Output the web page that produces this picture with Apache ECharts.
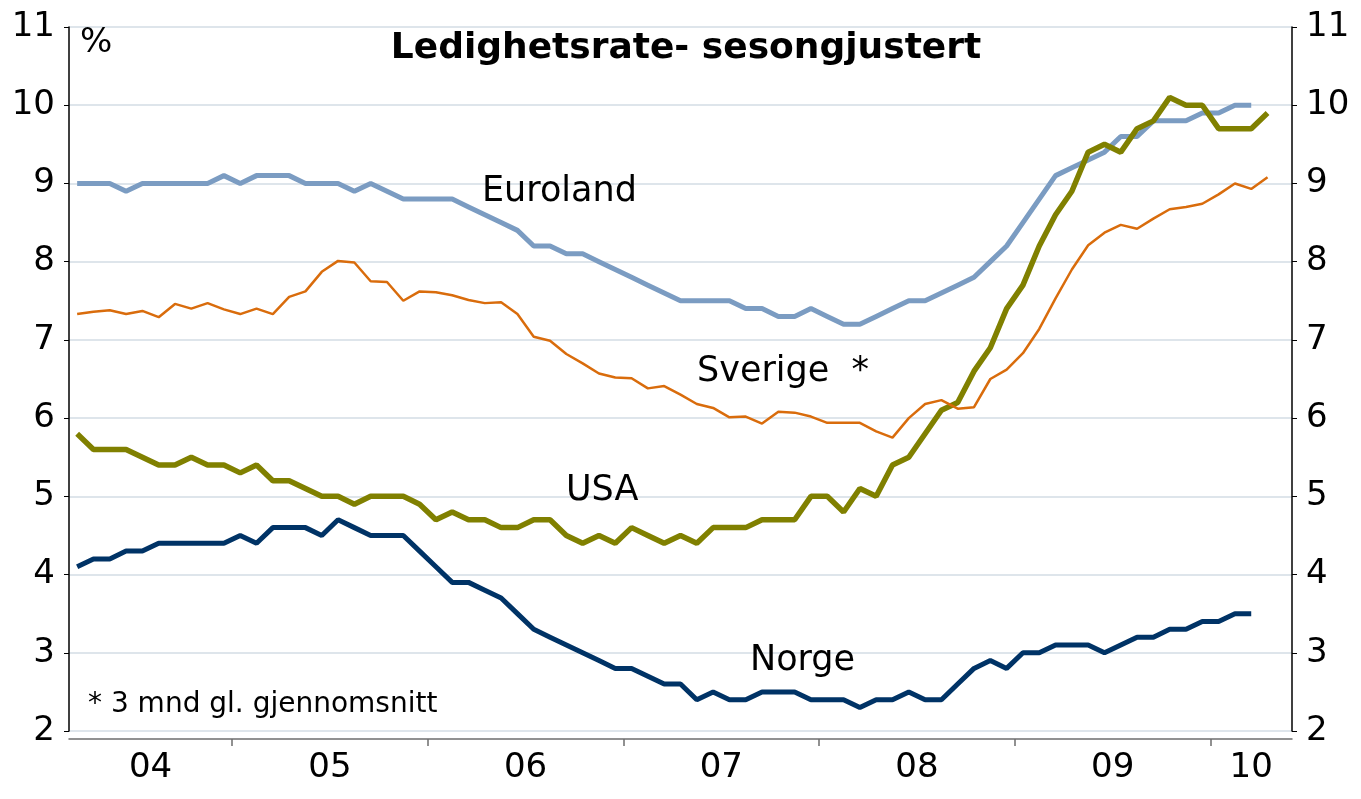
<!DOCTYPE html>
<html>
<head>
<meta charset="utf-8">
<title>Ledighetsrate</title>
<script src="https://cdn.jsdelivr.net/npm/echarts@6/dist/echarts.min.js"></script>
<style>
  html, body { margin: 0; padding: 0; background: #fff; }
  #main { width: 1361px; height: 799px; }
</style>
</head>
<body>
<div id="main"></div>
<script>
// monthly data, first month March 2004
const startYear = 2004;
const startMonth = 3;
const monthCount = 75; // Mar 2004 .. May 2010 on the axis

const euroland = [
  9.0, 9.0, 9.0, 8.9, 9.0, 9.0, 9.0, 9.0, 9.0, 9.1, 9.0, 9.1, 9.1, 9.1, 9.0, 9.0, 9.0, 8.9, 9.0,
  8.9, 8.8, 8.8, 8.8, 8.8, 8.7, 8.6, 8.5, 8.4, 8.2, 8.2, 8.1, 8.1, 8.0, 7.9, 7.8, 7.7, 7.6, 7.5,
  7.5, 7.5, 7.5, 7.4, 7.4, 7.3, 7.3, 7.4, 7.3, 7.2, 7.2, 7.3, 7.4, 7.5, 7.5, 7.6, 7.7, 7.8,
  8.0, 8.2, 8.5, 8.8, 9.1, 9.2, 9.3, 9.4, 9.6, 9.6, 9.8, 9.8, 9.8, 9.9, 9.9, 10.0, 10.0
];
const sverige = [
  7.33, 7.36, 7.38, 7.33, 7.37, 7.29, 7.46, 7.40, 7.47, 7.39, 7.33, 7.40, 7.33, 7.55, 7.62, 7.87, 8.01, 7.99, 7.75,
  7.74, 7.50, 7.62, 7.61, 7.57, 7.51, 7.47, 7.48, 7.33, 7.04, 6.99, 6.82, 6.70, 6.57, 6.52, 6.51, 6.38, 6.41, 6.30,
  6.18, 6.13, 6.01, 6.02, 5.93, 6.08, 6.07, 6.02, 5.94, 5.94, 5.94, 5.83, 5.75, 6.00, 6.18, 6.23, 6.12, 6.14,
  6.50, 6.62, 6.83, 7.14, 7.53, 7.90, 8.21, 8.37, 8.47, 8.42, 8.55, 8.67, 8.70, 8.74, 8.86, 9.00, 8.93, 9.08
];
const usa = [
  5.8, 5.6, 5.6, 5.6, 5.5, 5.4, 5.4, 5.5, 5.4, 5.4, 5.3, 5.4, 5.2, 5.2, 5.1, 5.0, 5.0, 4.9, 5.0,
  5.0, 5.0, 4.9, 4.7, 4.8, 4.7, 4.7, 4.6, 4.6, 4.7, 4.7, 4.5, 4.4, 4.5, 4.4, 4.6, 4.5, 4.4, 4.5,
  4.4, 4.6, 4.6, 4.6, 4.7, 4.7, 4.7, 5.0, 5.0, 4.8, 5.1, 5.0, 5.4, 5.5, 5.8, 6.1, 6.2, 6.6,
  6.9, 7.4, 7.7, 8.2, 8.6, 8.9, 9.4, 9.5, 9.4, 9.7, 9.8, 10.1, 10.0, 10.0, 9.7, 9.7, 9.7, 9.9
];
const norge = [
  4.1, 4.2, 4.2, 4.3, 4.3, 4.4, 4.4, 4.4, 4.4, 4.4, 4.5, 4.4, 4.6, 4.6, 4.6, 4.5, 4.7, 4.6, 4.5,
  4.5, 4.5, 4.3, 4.1, 3.9, 3.9, 3.8, 3.7, 3.5, 3.3, 3.2, 3.1, 3.0, 2.9, 2.8, 2.8, 2.7, 2.6, 2.6,
  2.4, 2.5, 2.4, 2.4, 2.5, 2.5, 2.5, 2.4, 2.4, 2.4, 2.3, 2.4, 2.4, 2.5, 2.4, 2.4, 2.6,
  2.8, 2.9, 2.8, 3.0, 3.0, 3.1, 3.1, 3.1, 3.0, 3.1, 3.2, 3.2, 3.3, 3.3, 3.4, 3.4, 3.5, 3.5
];

const yearLabels = { 2004: "04", 2005: "05", 2006: "06", 2007: "07", 2008: "08", 2009: "09", 2010: "10" };

const months = [];
for (let i = 0; i < monthCount; i++) {
  const m = startMonth - 1 + i;
  const y = startYear + Math.floor(m / 12);
  months.push(y + "-" + String((m % 12) + 1).padStart(2, "0"));
}

// year boundaries (ticks) and year middles (labels), in band units
const tickPos = [];
const labelPos = [];
const labelText = {};
Object.keys(yearLabels).forEach((y) => {
  const idx = months.map((m, i) => (m.startsWith(y) ? i : -1)).filter((i) => i >= 0);
  if (!idx.length) return;
  const first = idx[0];
  const last = idx[idx.length - 1] + 1;
  if (first > 0) tickPos.push(first);
  const mid = (first + last) / 2;
  labelPos.push(mid);
  labelText[mid] = yearLabels[y];
});

const FONT = 'Verdana, "DejaVu Sans", sans-serif';

let myChart = echarts.init(document.getElementById("main"));
myChart.setOption({
  animation: false,
  backgroundColor: "#fff",
  textStyle: { fontFamily: FONT },
  title: {
    text: "Ledighetsrate- sesongjustert",
    left: 681,
    top: 26,
    textAlign: "center",
    textStyle: { fontFamily: FONT, fontSize: 36, fontWeight: "bold", color: "#000" },
  },
  grid: {
    left: 69,
    right: 69,
    top: 27,
    bottom: 68,
    containLabel: false,
  },
  xAxis: [
    {
      type: "category",
      data: months,
      boundaryGap: true,
      offset: 8,
      axisLine: { lineStyle: { color: "#6e6e6e", width: 1.5 } },
      axisTick: { show: false },
      axisLabel: { show: false },
      splitLine: { show: false },
    },
    {
      type: "value",
      min: 0,
      max: monthCount,
      position: "bottom",
      offset: 8,
      axisLine: { show: false },
      splitLine: { show: false },
      axisTick: {
        show: true,
        customValues: tickPos,
        length: 7,
        lineStyle: { color: "#6e6e6e", width: 1.5 },
      },
      axisLabel: {
        customValues: labelPos,
        formatter: (v) => labelText[v] || "",
        fontSize: 34,
        color: "#000",
        margin: 12,
        fontFamily: FONT,
      },
    },
  ],
  yAxis: [
    {
      type: "value",
      min: 2,
      max: 11,
      interval: 1,
      position: "left",
      axisLine: { show: true, lineStyle: { color: "#000", width: 1.5 } },
      axisTick: { show: true, length: 5, lineStyle: { color: "#000" } },
      axisLabel: { fontSize: 34, color: "#000", margin: 14, fontFamily: FONT },
      splitLine: { show: true, lineStyle: { color: "#d3dce4", width: 1.5 } },
    },
    {
      type: "value",
      min: 2,
      max: 11,
      interval: 1,
      position: "right",
      axisLine: { show: true, lineStyle: { color: "#000", width: 1.5 } },
      axisTick: { show: true, length: 5, lineStyle: { color: "#000" } },
      axisLabel: { fontSize: 34, color: "#000", margin: 14, fontFamily: FONT },
      splitLine: { show: false },
    },
  ],
  graphic: [
    { type: "text", z: 100, left: 80, top: 26, style: { text: "%", font: "34px " + FONT, fill: "#000" } },
    { type: "text", z: 100, x: 482, y: 192, style: { text: "Euroland", font: "35px " + FONT, fill: "#000", textVerticalAlign: "middle" } },
    { type: "text", z: 100, x: 697, y: 372, style: { text: "Sverige  *", font: "35px " + FONT, fill: "#000", textVerticalAlign: "middle" } },
    { type: "text", z: 100, x: 566, y: 491, style: { text: "USA", font: "35px " + FONT, fill: "#000", textVerticalAlign: "middle" } },
    { type: "text", z: 100, x: 750, y: 661, style: { text: "Norge", font: "35px " + FONT, fill: "#000", textVerticalAlign: "middle" } },
    { type: "text", z: 100, x: 88, y: 705, style: { text: "* 3 mnd gl. gjennomsnitt", font: "28px " + FONT, fill: "#000", textVerticalAlign: "middle" } },
  ],
  series: [
    {
      name: "Euroland",
      type: "line",
      data: euroland,
      symbol: "none",
      lineStyle: { color: "#7b9cc2", width: 5 },
      z: 2,
    },
    {
      name: "Norge",
      type: "line",
      data: norge,
      symbol: "none",
      lineStyle: { color: "#003366", width: 5 },
      z: 3,
    },
    {
      name: "USA",
      type: "line",
      data: usa,
      symbol: "none",
      lineStyle: { color: "#808000", width: 5.5 },
      z: 4,
    },
    {
      name: "Sverige",
      type: "line",
      data: sverige,
      symbol: "none",
      lineStyle: { color: "#d96c0c", width: 2.5 },
      z: 5,
    },
  ],
});
</script>
</body>
</html>
